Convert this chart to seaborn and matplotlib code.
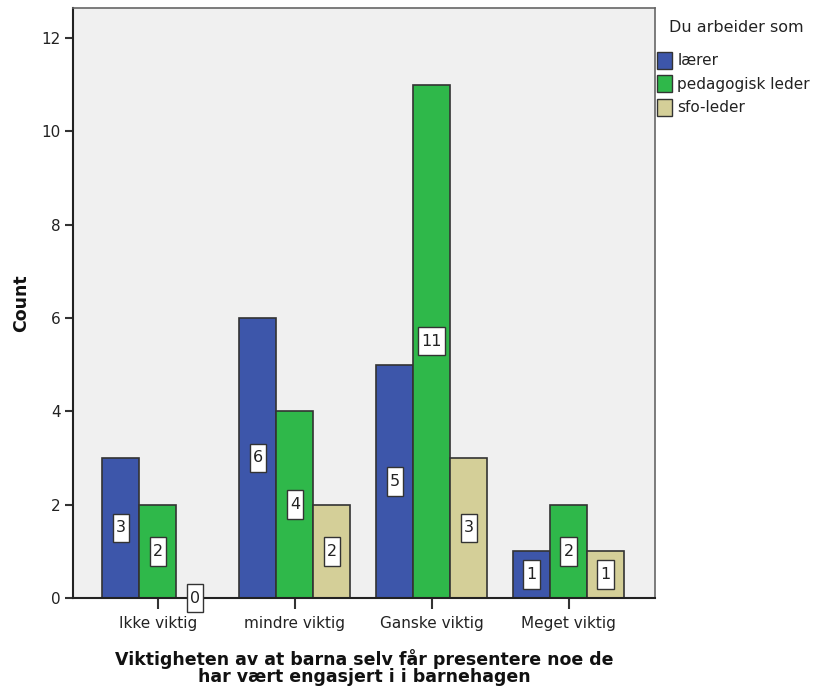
import matplotlib
matplotlib.use("Agg")
import matplotlib.pyplot as plt
import seaborn as sns
import pandas as pd
from matplotlib.patches import Patch
from matplotlib.path import Path

categories = ["Ikke viktig", "mindre viktig", "Ganske viktig", "Meget viktig"]
roles = ["lærer", "pedagogisk leder", "sfo-leder"]
laerer = [3, 6, 5, 1]
ped_leder = [2, 4, 11, 2]
sfo_leder = [0, 2, 3, 1]
colors = ["#3D56AA", "#2FB84A", "#D4CF98"]

rows = []
for role, vals in zip(roles, [laerer, ped_leder, sfo_leder]):
    for cat, v in zip(categories, vals):
        rows.append({"kategori": cat, "rolle": role, "antall": v})
df = pd.DataFrame(rows)

sns.set_theme(style="white")
plt.rcParams["font.family"] = ["DejaVu Sans"]


def tall_box(x0, y0, width, height, mutation_size):
    """Rectangular label box with more vertical than horizontal padding."""
    px = 0.2 * mutation_size
    py = 0.42 * mutation_size
    x0, y0 = x0 - px, y0 - py
    x1, y1 = x0 + width + 2 * px, y0 + height + 2 * py
    return Path([(x0, y0), (x1, y0), (x1, y1), (x0, y1), (x0, y0)],
                closed=True)


fig = plt.figure(figsize=(8.19, 6.88), dpi=100)
ax = fig.add_axes([0.0891, 0.1308, 0.7107, 0.8576])
ax.set_facecolor("#F0F0F0")

sns.barplot(data=df, x="kategori", y="antall", hue="rolle", order=categories,
            hue_order=roles, palette=colors, width=0.81, edgecolor="#333333",
            linewidth=1.2, saturation=1, ax=ax, legend=False, errorbar=None)

# value boxes centred in each bar
for cont in ax.containers:
    for bar in cont:
        h = bar.get_height()
        xc = bar.get_x() + bar.get_width() / 2
        ax.text(xc, h / 2, f"{int(h)}", ha="center", va="center", fontsize=11.5,
                color="#222222",
                bbox=dict(boxstyle=tall_box, fc="white", ec="#333333", lw=1.0),
                zorder=5, clip_on=False)

ax.set_ylim(0, 12.64)
ax.set_xlim(-0.62, 3.63)
ax.set_yticks([0, 2, 4, 6, 8, 10, 12])
ax.tick_params(axis="y", direction="out", length=6, width=1.5, color="#333333",
               labelsize=11, pad=3, labelcolor="#222222")
ax.tick_params(axis="x", direction="out", length=8, width=1.5, color="#333333",
               labelsize=11, pad=5, labelcolor="#222222")
ax.tick_params(left=True, bottom=True)

for side in ["left", "bottom"]:
    ax.spines[side].set_color("#222222")
    ax.spines[side].set_linewidth(1.5)
for side in ["top", "right"]:
    ax.spines[side].set_color("#666666")
    ax.spines[side].set_linewidth(1.2)

ax.set_xlabel("Viktigheten av at barna selv får presentere noe de\nhar vært engasjert i i barnehagen",
              fontsize=12.5, fontweight="bold", labelpad=13, linespacing=0.95,
              color="#111111")
ax.set_ylabel("Count", fontsize=12.5, fontweight="bold", labelpad=8,
              color="#111111")

handles = [Patch(facecolor=c, edgecolor="#333333", lw=1.0) for c in colors]
leg = fig.legend(handles, roles, title="Du arbeider som", loc="upper left",
                 bbox_to_anchor=(0.798, 0.975), frameon=False, fontsize=11,
                 title_fontsize=11.5, handlelength=1.0, handleheight=1.3,
                 handletextpad=0.35, labelspacing=0.45, borderpad=0.2,
                 borderaxespad=0)
leg._legend_box.align = "left"
leg._legend_box.sep = 12
leg.get_title().set_position((12, 0))
leg.get_title().set_color("#222222")
for t in leg.get_texts():
    t.set_color("#222222")

fig.savefig("out.png", dpi=100)
